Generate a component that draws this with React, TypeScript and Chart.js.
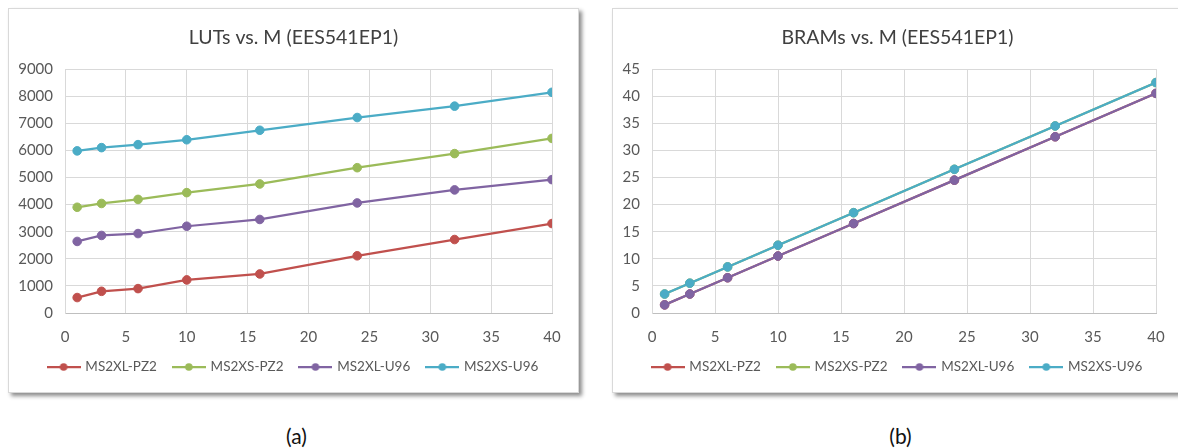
import React, { useEffect, useRef } from "react";
import { Chart, registerables } from "chart.js";

Chart.register(...registerables);

// ---- data ----
const mValues = [1, 3, 6, 10, 16, 24, 32, 40];
const seriesNames = ["MS2XL-PZ2", "MS2XS-PZ2", "MS2XL-U96", "MS2XS-U96"];
const seriesColors = ["#C0504D", "#9BBB59", "#8064A2", "#4BACC6"];

const lutsXLPZ2 = [570, 800, 900, 1220, 1440, 2110, 2710, 3300];
const lutsXSPZ2 = [3900, 4040, 4190, 4440, 4760, 5360, 5880, 6440];
const lutsXLU96 = [2640, 2860, 2930, 3200, 3450, 4060, 4540, 4920];
const lutsXSU96 = [5980, 6100, 6210, 6390, 6740, 7210, 7630, 8140];

const bramsXLPZ2 = [1.5, 3.5, 6.5, 10.5, 16.5, 24.5, 32.5, 40.5];
const bramsXSPZ2 = [3.5, 5.5, 8.5, 12.5, 18.5, 26.5, 34.5, 42.5];
const bramsXLU96 = [1.5, 3.5, 6.5, 10.5, 16.5, 24.5, 32.5, 40.5];
const bramsXSU96 = [3.5, 5.5, 8.5, 12.5, 18.5, 26.5, 34.5, 42.5];

const xTicksMax = 40;
const xTickStep = 5;

const FONT = "Lato, 'Open Sans', sans-serif";
const TEXT = "#595959";

function makeIcon(color: string) {
  const c = document.createElement("canvas");
  c.width = 34;
  c.height = 10;
  const ctx = c.getContext("2d")!;
  ctx.strokeStyle = color;
  ctx.lineWidth = 2.25;
  ctx.beginPath();
  ctx.moveTo(0, 5);
  ctx.lineTo(34, 5);
  ctx.stroke();
  ctx.fillStyle = color;
  ctx.beginPath();
  ctx.arc(17, 5, 3.8, 0, Math.PI * 2);
  ctx.fill();
  return c;
}

type PanelProps = {
  title: string;
  series: number[][];
  yMax: number;
  yStep: number;
  yAxisWidth: number;
  left: number;
  caption: string;
};

const PANEL_TOP = 8;
const PANEL_W = 571;
const PANEL_H = 385;

function Panel({ title, series, yMax, yStep, yAxisWidth, left, caption }: PanelProps) {
  const ref = useRef<HTMLCanvasElement | null>(null);
  useEffect(() => {
    const canvas = ref.current!;
    const icons = seriesColors.map(makeIcon);
    const chart = new Chart(canvas, {
      type: "line",
      data: {
        datasets: series.map((vals, i) => ({
          label: seriesNames[i],
          data: vals.map((v, j) => ({ x: mValues[j], y: v })),
          borderColor: seriesColors[i],
          backgroundColor: seriesColors[i],
          pointBackgroundColor: seriesColors[i],
          pointBorderColor: seriesColors[i],
          pointRadius: 4.3,
          pointBorderWidth: 1,
          borderWidth: 2.25,
          tension: 0,
          order: -i,
        })),
      },
      options: {
        animation: false,
        responsive: false,
        devicePixelRatio: 1,
        layout: { padding: { left: 0, right: 0, top: 0, bottom: 8.25 } },
        plugins: {
          title: {
            display: true,
            text: title,
            color: "#404040",
            font: { family: FONT, size: 19.5, weight: "normal" },
            padding: { top: 17, bottom: 19.6 },
          },
          legend: {
            position: "bottom",
            labels: {
              usePointStyle: true,
              pointStyleWidth: 30,
              padding: 17,
              color: TEXT,
              font: { family: FONT, size: 13.5 },
              generateLabels: () =>
                seriesNames.map((n, i) => ({
                  text: n,
                  fillStyle: seriesColors[i],
                  strokeStyle: seriesColors[i],
                  lineWidth: 0,
                  pointStyle: icons[i],
                  hidden: false,
                  datasetIndex: i,
                  fontColor: TEXT,
                })),
            },
          },
          tooltip: { enabled: false },
        },
        scales: {
          x: {
            type: "linear",
            min: 0,
            max: xTicksMax,
            ticks: {
              stepSize: xTickStep,
              color: TEXT,
              padding: 15,
              font: { family: FONT, size: 15 },
              maxRotation: 0,
              callback: (v: any) => String(v),
            },
            grid: { color: "#d9d9d9", drawTicks: false },
            border: { color: "#bfbfbf" },
            afterFit: (s: any) => {
              s.height = 30.25;
            },
          },
          y: {
            min: 0,
            max: yMax,
            ticks: {
              stepSize: yStep,
              color: TEXT,
              padding: 12,
              font: { family: FONT, size: 15 },
              callback: (v: any) => String(v),
            },
            grid: { color: "#d9d9d9", drawTicks: false },
            border: { color: "#d9d9d9" },
            afterFit: (s: any) => {
              s.width = yAxisWidth;
            },
          },
          spacer: {
            type: "linear",
            position: "right",
            display: true,
            grid: { display: false, drawTicks: false },
            border: { display: false },
            ticks: { display: false },
            afterFit: (s: any) => {
              s.width = 26;
            },
          },
        },
      },
    } as any);
    return () => chart.destroy();
  }, []);

  return (
    <>
      <div
        style={{
          position: "absolute",
          left,
          top: PANEL_TOP,
          width: PANEL_W - 2,
          height: PANEL_H - 2,
          border: "1px solid #d9d9d9",
          background: "#fff",
          boxShadow: "3px 3px 4px rgba(0,0,0,0.45)",
        }}
      >
        <canvas
          ref={ref}
          width={PANEL_W - 2}
          height={PANEL_H - 2}
          style={{ display: "block", width: PANEL_W - 2, height: PANEL_H - 2 }}
        />
      </div>
      <div
        style={{
          position: "absolute",
          left: left + PANEL_W / 2 - 57,
          width: 120,
          top: 423,
          textAlign: "center",
          fontFamily: FONT,
          fontSize: 21,
          color: "#111",
          lineHeight: "26px",
        }}
      >
        {caption}
      </div>
    </>
  );
}

export default function App() {
  return (
    <div
      style={{
        position: "absolute",
        left: 0,
        top: 0,
        width: 1178,
        height: 448,
        overflow: "hidden",
        background: "#fff",
      }}
    >
      <Panel
        title="LUTs vs. M (EES541EP1)"
        series={[lutsXLPZ2, lutsXSPZ2, lutsXLU96, lutsXSU96]}
        yMax={9000}
        yStep={1000}
        yAxisWidth={56}
        left={8}
        caption="(a)"
      />
      <Panel
        title="BRAMs vs. M (EES541EP1)"
        series={[bramsXLPZ2, bramsXSPZ2, bramsXLU96, bramsXSU96]}
        yMax={45}
        yStep={5}
        yAxisWidth={39}
        left={612}
        caption="(b)"
      />
    </div>
  );
}
